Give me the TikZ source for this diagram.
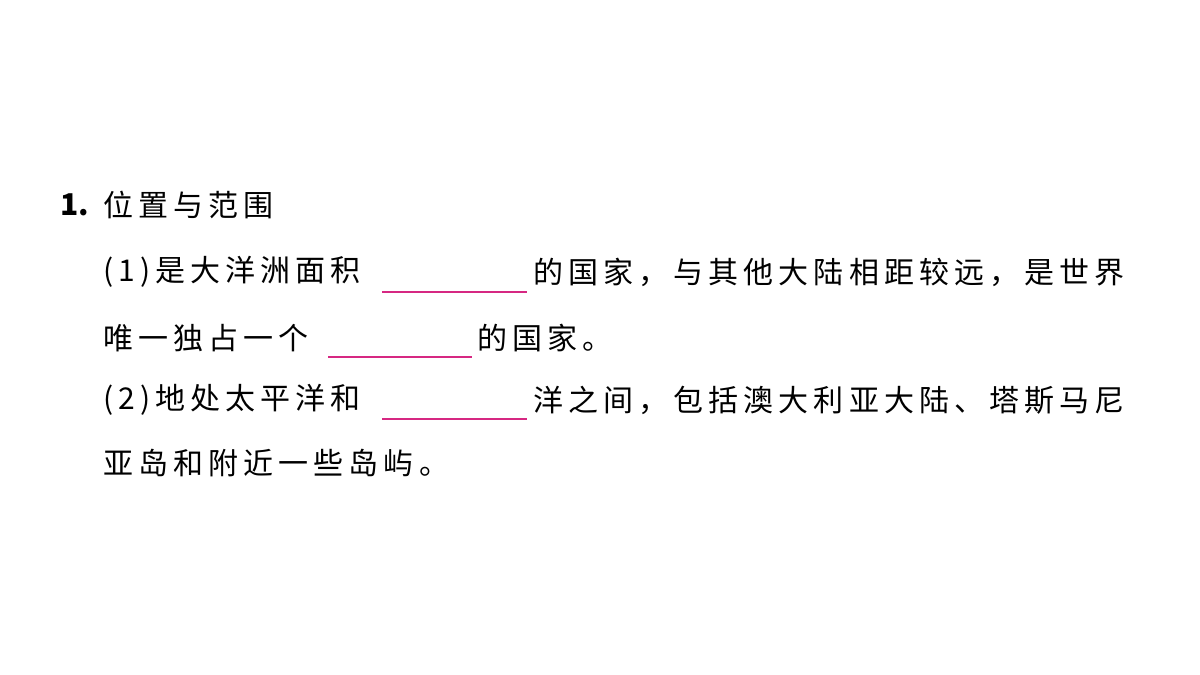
\documentclass[tikz,border=0pt]{standalone}
\usepackage{fontspec}
\newfontfamily\cjk[LetterSpace=17]{Noto Sans CJK SC}
\newfontfamily\cjknum{Noto Sans CJK SC}
\definecolor{blankpink}{RGB}{214,40,130}
\tikzset{
  txt/.style={anchor=west,inner sep=0pt,font=\cjk\fontsize{30}{35}\selectfont},
  blank/.style={blankpink,line width=1.2pt}
}
\begin{document}
\begin{tikzpicture}[x=1pt,y=1pt]
\useasboundingbox (0,0) rectangle (1200,675);

\node[txt,font=\cjknum\bfseries\fontsize{30}{35}\selectfont] (num) at (60,470) {1.};
\node[txt] (title) at (103,470) {位置与范围};

% (1)
\node[txt] (l2a) at (103,403) {(1)是大洋洲面积};
\coordinate (b1s) at (382,383);
\coordinate (b1e) at (527,383);
\draw[blank] (b1s) -- (b1e);
\node[txt] (l2b) at (533,403) {的国家，与其他大陆相距较远，是世界};

\node[txt] (l3a) at (103,337) {唯一独占一个};
\coordinate (b2s) at (328,318);
\coordinate (b2e) at (472,318);
\draw[blank] (b2s) -- (b2e);
\node[txt] (l3b) at (477,337) {的国家。};

% (2)
\node[txt] (l4a) at (103,275) {(2)地处太平洋和};
\coordinate (b3s) at (382,256);
\coordinate (b3e) at (527,256);
\draw[blank] (b3s) -- (b3e);
\node[txt] (l4b) at (533,275) {洋之间，包括澳大利亚大陆、塔斯马尼};

\node[txt] (l5) at (103,212) {亚岛和附近一些岛屿。};
\end{tikzpicture}
\end{document}
